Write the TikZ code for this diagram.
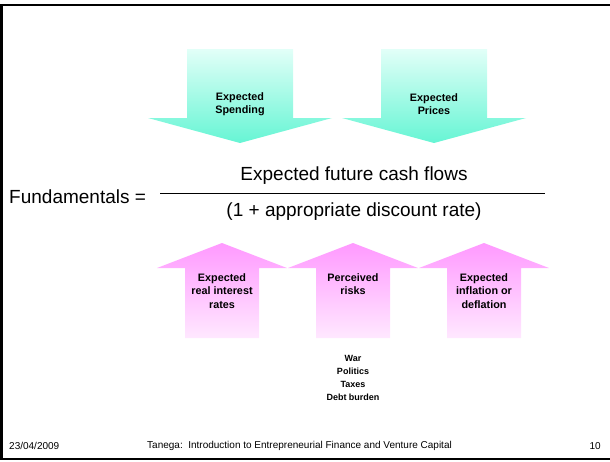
\documentclass[tikz,border=0pt]{standalone}
\usepackage{fontspec}
\setmainfont{Liberation Sans}
\usetikzlibrary{positioning}

\definecolor{cashtop}{HTML}{E2FFF8}
\definecolor{cashbottom}{HTML}{66F5D4}
\definecolor{ratetop}{HTML}{FF99FF}
\definecolor{ratebottom}{HTML}{FFE8FF}

\tikzset{
  cashflow/.style={top color=cashtop, bottom color=cashbottom},
  discount/.style={top color=ratetop, bottom color=ratebottom},
  driver/.style={font=\bfseries\fontsize{10.8}{13.5}\selectfont, align=center, inner sep=0pt},
  formula/.style={font=\fontsize{19}{22}\selectfont, inner sep=0pt},
  footer/.style={font=\fontsize{10}{12}\selectfont, inner sep=0pt},
}

\begin{document}
\begin{tikzpicture}[x=1pt, y=-1pt, node distance=1mm]
  \useasboundingbox (0,0) rectangle (610,461);
  % frame
  \draw[line width=2.5pt] (0,5) -- (610,5);
  \draw[line width=2.5pt] (1.5,5) -- (1.5,459);
  \draw[line width=2.5pt] (0,459) -- (610,459);

  % arrows into the numerator
  \foreach \cx in {240,434}
    \shade[cashflow] (\cx-53,49) -- (\cx+53,49) -- (\cx+53,118) -- (\cx+92,118)
      -- (\cx,143) -- (\cx-92,118) -- (\cx-53,118) -- cycle;
  % arrows into the denominator
  \foreach \cx in {222,353,484}
    \shade[discount] (\cx-37,338) -- (\cx+37,338) -- (\cx+37,268) -- (\cx+65,268)
      -- (\cx,243) -- (\cx-65,268) -- (\cx-37,268) -- cycle;

  \node[driver] (spending) at (240,104) {Expected\\Spending};
  \node[driver] (prices) at (434,104) {Expected\\Prices};

  \node[formula] (numerator) at (354,176) {Expected future cash flows};
  \node[formula] (denominator) at (354,212) {(1 + appropriate discount rate)};
  \node[formula, anchor=west] (fundamentals) at (9,197) {Fundamentals =};
  \coordinate (barleft) at (160,193);
  \coordinate (barright) at (545,193);
  \draw[line width=0.8pt] (barleft) -- (barright);

  \node[driver, anchor=north] (realrates) at (222,273) {Expected\\real interest\\rates};
  \node[driver, anchor=north] (risks) at (353,273) {Perceived\\risks};
  \node[driver, anchor=north] (inflation) at (484,273) {Expected\\inflation or\\deflation};
  \node[driver, font=\bfseries\fontsize{9}{13}\selectfont, anchor=north] (riskitems) at (353,355)
    {War\\Politics\\Taxes\\Debt burden};

  \node[footer, anchor=west] (date) at (9,446) {23/04/2009};
  \node[footer, anchor=west] (course) at (147,446)
    {Tanega:\ \ Introduction to Entrepreneurial Finance and Venture Capital};
  \node[footer, anchor=east] (page) at (601,446) {10};
\end{tikzpicture}
\end{document}
